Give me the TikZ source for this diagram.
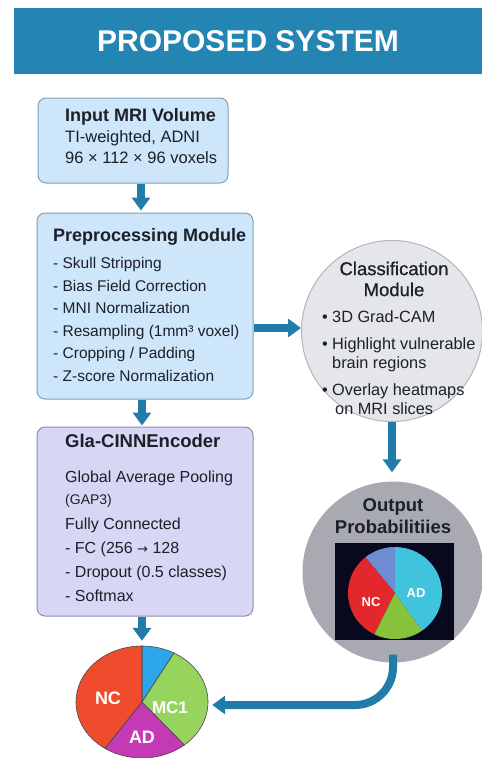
\documentclass[tikz,border=0pt]{standalone}
\usepackage{fontspec}
\setmainfont{Liberation Sans}
\newfontfamily\symfont{DejaVu Sans}
\newfontfamily\medfont{Liberation Sans}[FakeBold=0.6]
\usepackage{tikz}
\usetikzlibrary{arrows.meta,positioning,shapes.geometric}

\definecolor{banner}{RGB}{36,132,178}
\definecolor{flowblue}{RGB}{34,124,170}
\definecolor{boxblue}{RGB}{206,230,249}
\definecolor{boxedge}{RGB}{128,158,184}
\definecolor{boxlav}{RGB}{215,215,245}
\definecolor{lavedge}{RGB}{140,140,172}
\definecolor{clsgray}{RGB}{229,230,234}
\definecolor{clsedge}{RGB}{178,180,188}
\definecolor{outgray}{RGB}{168,169,177}
\definecolor{ink}{RGB}{28,32,40}
\definecolor{resNC}{RGB}{238,76,44}
\definecolor{resBL}{RGB}{44,166,234}
\definecolor{resMC}{RGB}{150,212,94}
\definecolor{resAD}{RGB}{196,58,180}
\definecolor{probAD}{RGB}{64,196,222}
\definecolor{probBL}{RGB}{110,140,210}
\definecolor{probNC}{RGB}{226,40,44}
\definecolor{probGR}{RGB}{134,194,58}
\definecolor{probbg}{RGB}{8,8,30}
\definecolor{sliceedge}{RGB}{70,70,70}

\newcommand{\fs}[2]{\fontsize{#1}{#2}\selectfont}

\begin{document}
\begin{tikzpicture}[x=1pt,y=1pt,
    panel/.style={draw=boxedge, fill=boxblue, rounded corners=8pt, line width=1pt},
    flow/.style={draw=flowblue, line width=8pt, -{Triangle[length=13pt,width=18pt]}},
    body/.style={anchor=north west, align=left, inner sep=0pt, text=ink},
    slice/.style={draw=sliceedge, line width=.6pt},
    lbl/.style={text=white, font=\bfseries\fs{18}{20}, inner sep=0pt}]
      \useasboundingbox (0,0) rectangle (482,-758);

      %% title bar
      \node (hdr) at (248,-41) [fill=banner, minimum width=468pt, minimum height=66pt,
        text=white, font=\bfseries\fs{30}{36}] {PROPOSED SYSTEM};

      %% left column
      \node (mri) at (133,-140.5) [panel, minimum width=190pt, minimum height=85pt] {};
      \node (prep) at (145,-306) [panel, minimum width=216pt, minimum height=186pt] {};
      \node (enc) at (145,-521.5) [panel, fill=boxlav, draw=lavedge, minimum width=216pt,
        minimum height=189pt] {};

      \node (mritxt) [body, font=\fs{16.5}{21}] at (65,-108.5)
        {{\bfseries\fs{18}{21}Input MRI Volume}\\
         TI-weighted, ADNI\\
         96 × 112 × 96 voxels};
      \node (preptxt) [body, font=\fs{15.5}{22.6}] at (53,-228.6)
        {{\bfseries\fs{18}{22.6}Preprocessing Module}\\[4pt]
         - Skull Stripping\\
         - Bias Field Correction\\
         - MNI Normalization\\
         - Resampling (1mm³ voxel)\\
         - Cropping / Padding\\
         - Z-score Normalization};
      \node (enctxt) [body, font=\fs{16}{24}] at (65,-434)
        {{\bfseries\fs{18.5}{24}Gla-CINNEncoder}\\[11pt]
         Global Average Pooling\\[-2pt]
         {\fs{14}{24}(GAP3)}\\[1pt]
         Fully Connected\\
         - FC (256 {\symfont\fs{13}{24}→} 128\\
         - Dropout (0.5 classes)\\
         - Softmax};

      %% right column
      \node (cls) at (392,-331) [circle, fill=clsgray, draw=clsedge, line width=1pt,
        minimum size=181pt, inner sep=0pt] {};
      \node (outp) at (393,-572) [circle, fill=outgray, minimum size=181pt, inner sep=0pt] {};

      \node (clshead) at (394,-279) [align=center, text=ink, inner sep=0pt,
        font=\medfont\fs{18.5}{21}] {Classification\\Module};
      \node (clstxt) [body, font=\fs{16.3}{19}] at (322,-310)
        {\makebox[10pt][l]{•}3D Grad-CAM\\[8pt]
         \makebox[10pt][l]{•}Highlight vulnerable\\
         \hspace*{10pt}brain regions\\[8pt]
         \makebox[10pt][l]{•}Overlay heatmaps\\
         \hspace*{13pt}on MRI slices};

      \node (outhead) at (393,-516) [align=center, text=ink, inner sep=0pt,
        font=\bfseries\fs{18.5}{22}] {Output\\Probabilitiies};
      \node (probbox) at (394.5,-591.5) [fill=probbg, minimum width=119pt,
        minimum height=97pt, inner sep=0pt] {};
      \begin{scope}[shift={(395,-593)}]
        \fill[probAD] (0,0) -- (-55:47 and 46) arc[start angle=-55, end angle=90, x radius=47, y radius=46] -- cycle;
        \fill[probBL] (0,0) -- (90:47 and 46) arc[start angle=90, end angle=129, x radius=47, y radius=46] -- cycle;
        \fill[probNC] (0,0) -- (129:47 and 46) arc[start angle=129, end angle=244, x radius=47, y radius=46] -- cycle;
        \fill[probGR] (0,0) -- (244:47 and 46) arc[start angle=244, end angle=305, x radius=47, y radius=46] -- cycle;
      \end{scope}
      \node (probnc) at (371,-602) [lbl, font=\bfseries\fs{13}{15}] {NC};
      \node (probad) at (416,-593) [lbl, font=\bfseries\fs{13}{15}] {AD};

      %% result pie
      \node (res) at (142,-702) [ellipse, minimum width=132pt, minimum height=112pt, inner sep=0pt] {};
      \begin{scope}[shift={(142,-702)}]
        \filldraw[slice, fill=resBL] (0,0) -- (61:66 and 56) arc[start angle=61, end angle=90, x radius=66, y radius=56] -- cycle;
        \filldraw[slice, fill=resNC] (0,0) -- (90:66 and 56) arc[start angle=90, end angle=236, x radius=66, y radius=56] -- cycle;
        \filldraw[slice, fill=resAD] (0,0) -- (236:66 and 56) arc[start angle=236, end angle=310, x radius=66, y radius=56] -- cycle;
        \filldraw[slice, fill=resMC] (0,0) -- (310:66 and 56) arc[start angle=310, end angle=421, x radius=66, y radius=56] -- cycle;
      \end{scope}
      \node (resnc) at (108,-698) [lbl] {NC};
      \node (resmc) at (170,-708) [lbl, font=\bfseries\fs{17}{20}] {MC1};
      \node (resad) at (142,-737) [lbl] {AD};

      %% connectors
      \draw[flow, shorten >=2pt] ([xshift=8pt]mri.south) -- ([xshift=8pt]mri.south |- prep.north);
      \draw[flow] ([yshift=-22pt]prep.east) -- ([yshift=-22pt]prep.east -| cls.west);
      \draw[flow, shorten >=1pt] ([xshift=-3pt]prep.south) -- ([xshift=-3pt]enc.north);
      \draw[flow, shorten >=5pt] (enc.south -| res.north) -- (res.north);
      \draw[flow, shorten >=9pt] (cls.south) -- (cls.south |- outp.north);
      \draw[flow, rounded corners=38pt] ([yshift=8pt]outp.south) |- ([xshift=4pt,yshift=-3pt]res.east);

    \end{tikzpicture}
\end{document}
